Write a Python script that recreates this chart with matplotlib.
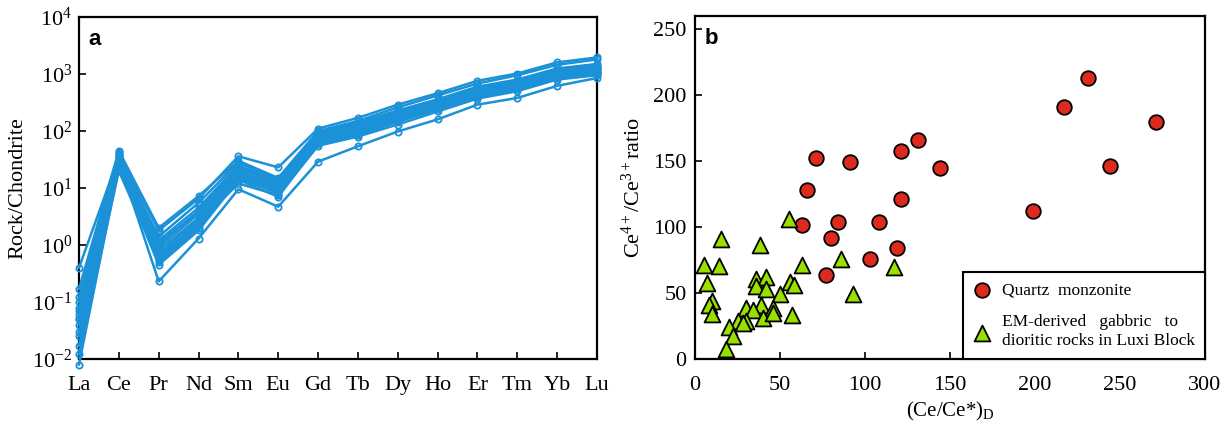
import matplotlib
matplotlib.use('Agg')
import matplotlib.pyplot as plt
import numpy as np
from matplotlib.ticker import FixedLocator, FixedFormatter

plt.rcParams['font.family'] = ['Liberation Serif', 'DejaVu Serif']
plt.rcParams['mathtext.fontset'] = 'custom'
plt.rcParams['mathtext.rm'] = 'Liberation Serif'
plt.rcParams['mathtext.it'] = 'Liberation Serif:italic'

# ---- panel a: chondrite-normalised REE patterns (zircon) ----
ree = ['La', 'Ce', 'Pr', 'Nd', 'Sm', 'Eu', 'Gd', 'Tb', 'Dy', 'Ho', 'Er', 'Tm', 'Yb', 'Lu']
s01 = [0.08, 40, 1.8, 6.5, 36, 23, 110, 170, 290, 460, 760, 1020, 1600, 1950]
s02 = [0.17, 45, 2.0, 7.2, 30, 15, 100, 150, 260, 420, 680, 950, 1450, 1800]
s03 = [0.40, 35, 1.4, 5.5, 28, 14, 95, 140, 230, 360, 600, 800, 1250, 1500]
s04 = [0.10, 30, 1.2, 4.5, 25, 13, 90, 130, 210, 330, 560, 750, 1150, 1350]
s05 = [0.06, 28, 1.0, 4.0, 22, 12, 85, 120, 200, 310, 520, 700, 1100, 1300]
s06 = [0.05, 25, 0.9, 3.5, 20, 11, 80, 115, 190, 300, 500, 680, 1050, 1250]
s07 = [0.04, 38, 0.8, 3.0, 19, 10, 75, 110, 180, 290, 480, 650, 1000, 1200]
s08 = [0.03, 32, 0.7, 2.8, 18, 9.5, 72, 105, 175, 280, 460, 620, 980, 1150]
s09 = [0.025, 27, 0.6, 2.5, 17, 9, 70, 100, 170, 270, 450, 600, 950, 1100]
s10 = [0.017, 22, 0.55, 2.2, 16, 8.5, 68, 95, 160, 260, 430, 580, 920, 1080]
s11 = [0.012, 20, 0.5, 2.0, 15, 8, 65, 90, 150, 250, 410, 560, 880, 1050]
s12 = [0.008, 24, 0.45, 1.8, 14, 7, 60, 85, 145, 240, 400, 540, 850, 1000]
s13 = [0.05, 30, 0.23, 1.3, 9.5, 4.7, 29, 54, 98, 160, 290, 380, 620, 850]
s14 = [0.12, 42, 1.1, 3.8, 24, 12.5, 88, 125, 220, 340, 570, 760, 1180, 1400]
s15 = [0.07, 36, 0.65, 2.4, 12, 7.5, 55, 80, 130, 220, 370, 500, 800, 950]
samples = [s01, s02, s03, s04, s05, s06, s07, s08, s09, s10, s11, s12, s13, s14, s15]

# ---- panel b: Ce4+/Ce3+ vs (Ce/Ce*)D ----
qm_x = [231, 217, 271, 199, 244, 131, 121, 144, 91, 71, 66, 63, 121, 84, 108, 80, 119, 103, 77]
qm_y = [213, 191, 180, 112, 146, 166, 158, 145, 149, 152, 128, 101.5, 121, 103.5, 104, 92, 84, 75.5, 64]
em_x = [15, 38, 5, 14, 63, 7, 36, 42, 36, 42, 56, 58, 50, 10, 8, 10, 30, 39, 46, 57,
        34, 30, 40, 46, 25, 20, 22.5, 18, 28, 55, 86, 117, 93]
em_y = [91, 86.5, 71, 70.5, 71.5, 57.5, 60.5, 62.5, 55.5, 53, 58.5, 56, 49.5, 44, 41, 34, 39, 41, 38.5, 33.5,
        37, 29, 31, 34.5, 28.5, 24.5, 17.5, 7.5, 27, 106, 75.5, 69.5, 49]

blue = '#1b91d8'

fig = plt.figure(figsize=(12.23, 4.22), dpi=100)
ax1 = fig.add_axes([79 / 1223, 63 / 422, 518 / 1223, 342 / 422])
ax2 = fig.add_axes([695 / 1223, 63 / 422, 510 / 1223, 343 / 422])

x = np.arange(len(ree))
for s in samples:
    ax1.plot(x, s, color=blue, lw=1.8, marker='o', ms=4.5, mfc='none', mec=blue,
             mew=1.3, clip_on=False, zorder=3)
ax1.set_yscale('log')
ax1.set_xlim(0, 13)
ax1.set_ylim(1e-2, 1e4)
ax1.set_xticks(x)
ax1.set_xticklabels(ree, fontsize=16)
decades = [1e-2, 1e-1, 1e0, 1e1, 1e2, 1e3, 1e4]
ax1.yaxis.set_major_locator(FixedLocator(decades))
ax1.yaxis.set_major_formatter(FixedFormatter([r'$10^{%d}$' % int(np.log10(d)) for d in decades]))
ax1.yaxis.set_minor_locator(FixedLocator([]))
ax1.tick_params(axis='both', direction='in', length=5, width=1.2, labelsize=16)
ax1.tick_params(axis='x', pad=12)
ax1.tick_params(axis='y', pad=5)
ax1.set_ylabel('Rock/Chondrite', fontsize=16, labelpad=3)
ax1.text(0.018, 0.965, 'a', transform=ax1.transAxes, fontsize=16, fontweight='bold',
         family='Liberation Sans', va='top', ha='left')

ax2.scatter(qm_x, qm_y, s=110, marker='o', c='#dd2a1f', edgecolors='black', linewidths=1.3,
            zorder=3, label='Quartz  monzonite')
ax2.scatter(em_x, em_y, s=130, marker='^', c='#99e000', edgecolors='black', linewidths=1.3,
            zorder=3, label='EM-derived   gabbric   to\ndioritic rocks in Luxi Block')
ax2.set_xlim(0, 300)
ax2.set_ylim(0, 260)
ax2.set_xticks([0, 50, 100, 150, 200, 250, 300])
ax2.set_yticks([0, 50, 100, 150, 200, 250])
ax2.tick_params(axis='both', direction='in', length=5, width=1.2, labelsize=16)
ax2.tick_params(axis='x', pad=12)
ax2.tick_params(axis='y', pad=6)
ax2.set_xlabel(r'(Ce/Ce*)$_{\rm D}$', fontsize=15, labelpad=4)
ax2.set_ylabel(r'Ce$^{4+}$/Ce$^{3+}$ratio', fontsize=16, labelpad=6)
ax2.text(0.018, 0.965, 'b', transform=ax2.transAxes, fontsize=16, fontweight='bold',
         family='Liberation Sans', va='top', ha='left')
leg = ax2.legend(loc='lower right', bbox_to_anchor=(1, 0), borderaxespad=0, fontsize=12.5,
                 fancybox=False, edgecolor='black', framealpha=1, handletextpad=0.7,
                 borderpad=0.6, labelspacing=0.9, handlelength=0.9)
leg.get_frame().set_linewidth(1.5)

for ax in (ax1, ax2):
    for sp in ax.spines.values():
        sp.set_linewidth(1.6)

fig.savefig('out.png', dpi=100)
